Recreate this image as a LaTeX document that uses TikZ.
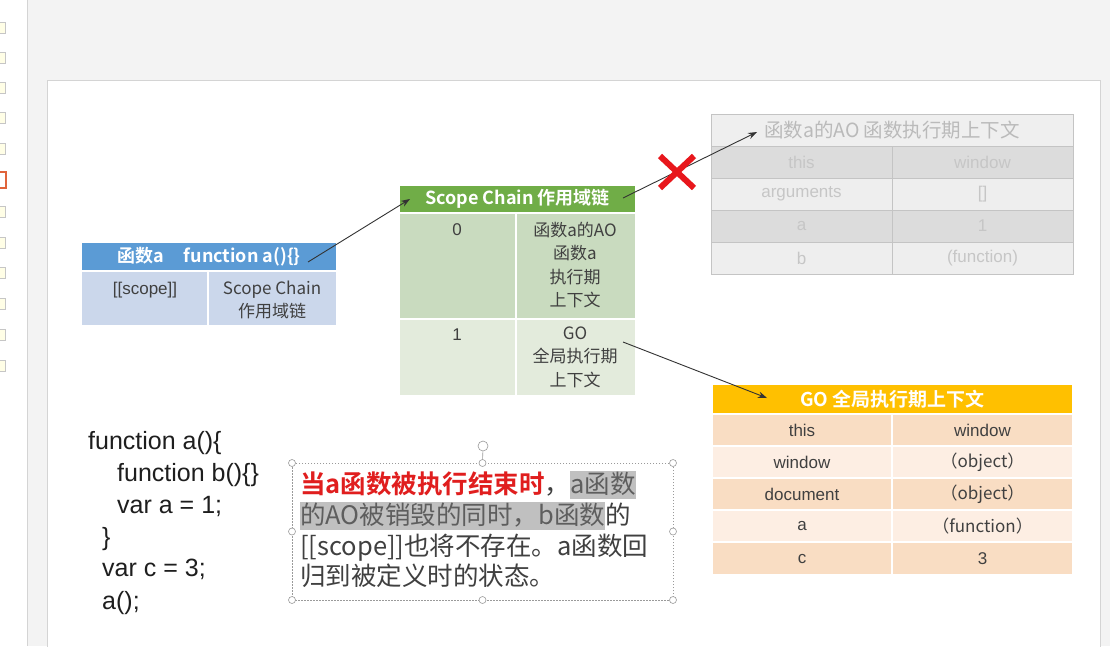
\documentclass[tikz,border=0pt]{standalone}
\usepackage{fontspec}
\setmainfont{Liberation Sans}
\newfontfamily\cjk{Noto Sans CJK SC}[BoldFont={Noto Sans CJK SC Bold}]
\usetikzlibrary{arrows.meta}

\definecolor{pageBg}{HTML}{F3F3F3}
\definecolor{frameLine}{HTML}{D4D4D4}
\definecolor{blueHead}{HTML}{5B9BD5}
\definecolor{blueBody}{HTML}{CBD7EB}
\definecolor{greenHead}{HTML}{70AD47}
\definecolor{greenDark}{HTML}{C9DBBF}
\definecolor{greenLight}{HTML}{E3EBDC}
\definecolor{goHead}{HTML}{FFC000}
\definecolor{goDark}{HTML}{F9DDC3}
\definecolor{goLight}{HTML}{FDEEE3}
\definecolor{aoHead}{HTML}{EFEFEF}
\definecolor{aoDark}{HTML}{DCDCDC}
\definecolor{aoLight}{HTML}{EEEEEE}
\definecolor{aoLine}{HTML}{C4C4C4}
\definecolor{aoText}{HTML}{C6C6C6}
\definecolor{aoHeadText}{HTML}{BABABA}
\definecolor{bodyText}{HTML}{404040}
\definecolor{codeText}{HTML}{1E1E1E}
\definecolor{crossRed}{HTML}{E8171C}
\definecolor{noteRed}{HTML}{E01E1E}
\definecolor{markGray}{HTML}{C0C0C0}
\definecolor{markText}{HTML}{5E5E5E}
\definecolor{handleLine}{HTML}{9A9A9A}
\definecolor{thumbRed}{HTML}{E0643C}

% highlighted run of text in the note
\newcommand{\marked}[1]{{\setlength{\fboxsep}{0pt}\colorbox{markGray}{\rule[-0.24em]{0pt}{1.1em}\color{markText}#1}}}

\begin{document}
\begin{tikzpicture}[x=1pt,y=-1pt,
  box/.style={inner sep=0pt, outer sep=0pt, anchor=north west},
  cell/.style={box, draw=white, line width=1.6pt},
  aocell/.style={box, draw=aoLine, line width=0.9pt},
  headtxt/.style={inner sep=0pt, text=white, font=\cjk\bfseries\fontsize{18}{22}\selectfont},
  celltxt/.style={inner sep=0pt, text=bodyText, font=\fontsize{17}{22}\selectfont},
  cjktxt/.style={inner sep=0pt, text=bodyText, align=center, font=\cjk\fontsize{17}{23.5}\selectfont},
  aotxt/.style={inner sep=0pt, text=aoText, font=\fontsize{17}{22}\selectfont},
  codeline/.style={anchor=west, inner sep=0pt, text=codeText, font=\fontsize{25}{30}\selectfont, text height=0.75em, text depth=0.25em},
  noteline/.style={anchor=west, inner sep=0pt, text=bodyText, font=\cjk\fontsize{25.5}{31}\selectfont, text height=0.86em, text depth=0.24em},
  link/.style={draw=black!80, line width=0.9pt, -{Stealth[length=9pt,width=6.5pt]}},
  handle/.style={circle, draw=handleLine, fill=white, line width=0.6pt, minimum size=7pt, inner sep=0pt},
]
\useasboundingbox (0,0) rectangle (1110,646);

% --- application backdrop and slide ---
\fill[pageBg] (0,0) rectangle (1110,646);
\fill[white] (0,0) rectangle (27,646);
\draw[frameLine] (27,0) -- (27,646);
\foreach \ty in {22,52,82,112,143,206,237,267,298,329,360}
  \draw[gray!45, fill=yellow!10, line width=0.6pt] (-4,\ty) rectangle (5,\ty+11);
\draw[thumbRed, line width=1.8pt] (-4,172) rectangle (6,188);
\fill[white, draw=frameLine] (47,80) rectangle (1100,660);

% --- function a ---
\node[cell, fill=blueHead, minimum width=256pt, minimum height=29pt] (aHead) at (81,242) {};
\node[headtxt] (aHeadTxt) at (aHead.center) {函数a\hspace{20pt}function a()\{\}};
\node[cell, fill=blueBody, minimum width=127pt, minimum height=55pt] (aKey) at (81,271) {};
\node[cell, fill=blueBody, minimum width=129pt, minimum height=55pt] (aVal) at (208,271) {};
\node[celltxt] (aKeyTxt) at (145,290) {[[scope]]};
\node[cjktxt] (aValTxt) at (272,300) {Scope Chain\\作用域链};

% --- scope chain ---
\node[cell, fill=greenHead, minimum width=237pt, minimum height=28pt] (scHead) at (399,185) {};
\node[headtxt] (scHeadTxt) at (scHead.center) {Scope Chain 作用域链};
\node[cell, fill=greenDark, minimum width=117pt, minimum height=106pt] (sc0Key) at (399,213) {};
\node[cell, fill=greenDark, minimum width=120pt, minimum height=106pt] (sc0Val) at (516,213) {};
\node[cell, fill=greenLight, minimum width=117pt, minimum height=77pt] (sc1Key) at (399,319) {};
\node[cell, fill=greenLight, minimum width=120pt, minimum height=77pt] (sc1Val) at (516,319) {};
\node[celltxt] (sc0KeyTxt) at (457,230) {0};
\node[cjktxt] (sc0ValTxt) at (575,265) {函数a的AO\\函数a\\执行期\\上下文};
\node[celltxt] (sc1KeyTxt) at (457,335) {1};
\node[cjktxt] (sc1ValTxt) at (575,357) {GO\\全局执行期\\上下文};

% --- activation object of a (destroyed, faded) ---
\node[aocell, fill=aoHead, minimum width=362pt, minimum height=32pt] (aoHead) at (711,114) {};
\node[inner sep=0pt, text=aoHeadText, font=\cjk\fontsize{19.5}{22}\selectfont] (aoHeadTxt) at (aoHead.center) {函数a的AO 函数执行期上下文};
\node[aocell, fill=aoDark, minimum width=181pt, minimum height=32pt] (ao1Key) at (711,146) {};
\node[aocell, fill=aoDark, minimum width=181pt, minimum height=32pt] (ao1Val) at (892,146) {};
\node[aocell, fill=aoLight, minimum width=181pt, minimum height=32pt] (ao2Key) at (711,178) {};
\node[aocell, fill=aoLight, minimum width=181pt, minimum height=32pt] (ao2Val) at (892,178) {};
\node[aocell, fill=aoDark, minimum width=181pt, minimum height=32pt] (ao3Key) at (711,210) {};
\node[aocell, fill=aoDark, minimum width=181pt, minimum height=32pt] (ao3Val) at (892,210) {};
\node[aocell, fill=aoLight, minimum width=181pt, minimum height=32pt] (ao4Key) at (711,242) {};
\node[aocell, fill=aoLight, minimum width=181pt, minimum height=32pt] (ao4Val) at (892,242) {};
\node[aotxt] at (ao1Key.center) {this};
\node[aotxt] at (ao1Val.center) {window};
\node[aotxt] at (ao2Key.center) {arguments};
\node[aotxt] at (ao2Val.center) {[]};
\node[aotxt] at (ao3Key.center) {a};
\node[aotxt] at (ao3Val.center) {1};
\node[aotxt] at (ao4Key.center) {b};
\node[aotxt] at (ao4Val.center) {(function)};

% --- global object ---
\node[cell, fill=goHead, minimum width=361pt, minimum height=30pt] (goHead) at (712,384) {};
\node[headtxt, font=\cjk\bfseries\fontsize{19}{22}\selectfont] (goHeadTxt) at (goHead.center) {GO 全局执行期上下文};
\node[cell, fill=goDark, minimum width=180pt, minimum height=32pt] (go1Key) at (712,414) {};
\node[cell, fill=goDark, minimum width=181pt, minimum height=32pt] (go1Val) at (892,414) {};
\node[cell, fill=goLight, minimum width=180pt, minimum height=32pt] (go2Key) at (712,446) {};
\node[cell, fill=goLight, minimum width=181pt, minimum height=32pt] (go2Val) at (892,446) {};
\node[cell, fill=goDark, minimum width=180pt, minimum height=32pt] (go3Key) at (712,478) {};
\node[cell, fill=goDark, minimum width=181pt, minimum height=32pt] (go3Val) at (892,478) {};
\node[cell, fill=goLight, minimum width=180pt, minimum height=32pt] (go4Key) at (712,510) {};
\node[cell, fill=goLight, minimum width=181pt, minimum height=32pt] (go4Val) at (892,510) {};
\node[cell, fill=goDark, minimum width=180pt, minimum height=33pt] (go5Key) at (712,542) {};
\node[cell, fill=goDark, minimum width=181pt, minimum height=33pt] (go5Val) at (892,542) {};
\node[celltxt] at (go1Key.center) {this};
\node[celltxt] at (go1Val.center) {window};
\node[celltxt] at (go2Key.center) {window};
\node[cjktxt] at (go2Val.center) {（object）};
\node[celltxt] at (go3Key.center) {document};
\node[cjktxt] at (go3Val.center) {（object）};
\node[celltxt] at (go4Key.center) {a};
\node[cjktxt] at (go4Val.center) {（function）};
\node[celltxt] at (go5Key.center) {c};
\node[celltxt] at (go5Val.center) {3};

% --- links between the records ---
\coordinate (fromA) at (308,262);
\coordinate (toSC) at (410,199);
\coordinate (fromSC0) at (623,198);
\coordinate (toAO) at (757,132);
\coordinate (fromSC1) at (623,342);
\coordinate (toGO) at (767,398);
\draw[link] (fromA) -- (toSC);
\draw[link] (fromSC0) -- (toAO);
\draw[link] (fromSC1) -- (toGO);

% the broken link to the destroyed AO
\coordinate (cross) at (677,172);
\draw[crossRed, line width=6pt] ([shift={(-17,-16)}]cross) -- ([shift={(17,16)}]cross);
\draw[crossRed, line width=6pt] ([shift={(-17,16)}]cross) -- ([shift={(17,-16)}]cross);

% --- source code ---
\node[codeline] (code1) at (88,447) {function a()\{};
\node[codeline] (code2) at (117,479) {function b()\{\}};
\node[codeline] (code3) at (117,511) {var a = 1;};
\node[codeline] (code4) at (102,543) {\}};
\node[codeline] (code5) at (102,574) {var c = 3;};
\node[codeline] (code6) at (102,607) {a();};

% --- selected note box ---
\node[box, draw=handleLine, line width=0.6pt, dash pattern=on 1.5pt off 1.5pt,
      minimum width=381pt, minimum height=137pt] (note) at (292,463) {};
\node[handle, minimum size=10pt] (rot) at (483,446) {};
\draw[handleLine, line width=0.6pt] (rot) -- (note.north);
\foreach \a in {north west,north,north east,west,east,south west,south,south east}
  \node[handle] at (note.\a) {};

\node[noteline] (note1) at (300,490) {{\bfseries\color{noteRed}当a函数被执行结束时}，\marked{a函数}};
\node[noteline] (note2) at (300,521) {\marked{的AO被销毁的同时，b函数}的};
\node[noteline] (note3) at (300,552) {[[scope]]也将不存在。a函数回};
\node[noteline] (note4) at (300,582) {归到被定义时的状态。};
\end{tikzpicture}
\end{document}
